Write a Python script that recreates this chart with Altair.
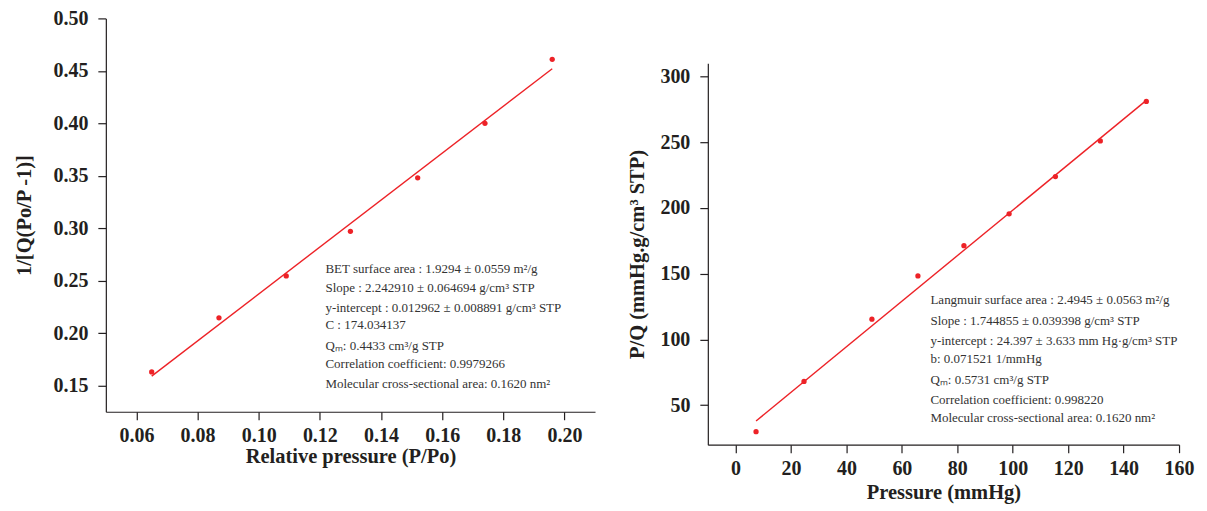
import altair as alt
import pandas as pd

# ---- BET plot data (left) ----
bet_x = [0.065, 0.087, 0.109, 0.130, 0.152, 0.174, 0.196]
bet_y = [0.163, 0.2145, 0.2545, 0.297, 0.348, 0.400, 0.461]
bet_fit_x = [0.065, 0.196]
bet_fit_y = [0.159, 0.452]
bet_xticks = [0.06, 0.08, 0.10, 0.12, 0.14, 0.16, 0.18, 0.20]
bet_yticks = [0.15, 0.20, 0.25, 0.30, 0.35, 0.40, 0.45, 0.50]
bet_text = [
    "BET surface area : 1.9294 \u00b1 0.0559 m\u00b2/g",
    "Slope : 2.242910 \u00b1 0.064694 g/cm\u00b3 STP",
    "y-intercept : 0.012962 \u00b1 0.008891 g/cm\u00b3 STP",
    "C : 174.034137",
    "Q\u2098: 0.4433 cm\u00b3/g STP",
    "Correlation coefficient: 0.9979266",
    "Molecular cross-sectional area: 0.1620 nm\u00b2",
]

# ---- Langmuir plot data (right) ----
lang_x = [7.4, 24.7, 49.2, 65.8, 82.4, 98.7, 115.4, 131.6, 148.2]
lang_y = [29.9, 68.1, 115.4, 148.3, 171.3, 195.6, 223.9, 251.0, 281.0]
lang_fit_x = [7.4, 148.2]
lang_fit_y = [38.0, 281.8]
lang_xticks = [0, 20, 40, 60, 80, 100, 120, 140, 160]
lang_yticks = [50, 100, 150, 200, 250, 300]
lang_text = [
    "Langmuir surface area : 2.4945 \u00b1 0.0563 m\u00b2/g",
    "Slope : 1.744855 \u00b1 0.039398 g/cm\u00b3 STP",
    "y-intercept : 24.397 \u00b1 3.633  mm Hg\u00b7g/cm\u00b3 STP",
    "b: 0.071521 1/mmHg",
    "Q\u2098:  0.5731 cm\u00b3/g STP",
    "Correlation coefficient: 0.998220",
    "Molecular cross-sectional area: 0.1620 nm\u00b2",
]

RED = "#ed2227"
INK = "#231f20"
SERIF = "Liberation Serif"

def axis(values, fmt, title, label_pad, title_pad):
    return alt.Axis(
        values=values, format=fmt, title=title, grid=False,
        domainColor=INK, tickColor=INK, domainWidth=1.2, tickWidth=1.2,
        tickSize=8, labelFont=SERIF, labelFontWeight="bold", labelFontSize=20,
        labelColor=INK, labelPadding=label_pad, titleFont=SERIF,
        titleFontWeight="bold", titleFontSize=20.5, titleColor=INK,
        titlePadding=title_pad, labelFlush=False, labelOverlap=False,
    )

def panel(px, py, fx, fy, xdom, ydom, xt, yt, xfmt, yfmt, xtitle, ytitle,
          texts, tx, ty, w, h, ytp, xtp):
    pts = pd.DataFrame({"x": px, "y": py})
    fit = pd.DataFrame({"x": fx, "y": fy})
    xs = alt.Scale(domain=xdom, nice=False, zero=False)
    ys = alt.Scale(domain=ydom, nice=False, zero=False)
    line = alt.Chart(fit).mark_line(color=RED, strokeWidth=1.4).encode(
        x=alt.X("x:Q", scale=xs, axis=axis(xt, xfmt, xtitle, 6, xtp)),
        y=alt.Y("y:Q", scale=ys, axis=axis(yt, yfmt, ytitle, 10, ytp)),
    )
    dots = alt.Chart(pts).mark_circle(color=RED, size=28, opacity=1).encode(
        x=alt.X("x:Q", scale=xs), y=alt.Y("y:Q", scale=ys)
    )
    layers = [line, dots]
    for t, yy in zip(texts, ty):
        layers.append(
            alt.Chart(pd.DataFrame({"t": [t]})).mark_text(
                align="left", baseline="middle", font=SERIF, fontSize=13,
                color="#333333"
            ).encode(text="t:N", x=alt.value(tx), y=alt.value(yy))
        )
    return alt.layer(*layers).properties(width=w, height=h)

left = panel(bet_x, bet_y, bet_fit_x, bet_fit_y, [0.05, 0.21], [0.125, 0.50],
             bet_xticks, bet_yticks, ".2f", ".2f", "Relative pressure (P/Po)",
             "1/[Q(Po/P -1)]", bet_text, 220,
             [251, 270, 290, 307, 328, 346, 366], 490, 394, 18, 1)

right = panel(lang_x, lang_y, lang_fit_x, lang_fit_y, [-10, 160], [20, 310],
              lang_xticks, lang_yticks, "d", "d", "Pressure (mmHg)",
              "P/Q (mmHg.g/cm\u00b3 STP)", lang_text, 223,
              [237, 258, 278, 296, 317, 337, 355], 472, 382, 12, 4)

spacer = alt.Chart(pd.DataFrame({"a": [0]})).mark_point(opacity=0).encode(
    x=alt.value(0), y=alt.value(0)
).properties(width=472, height=25)

right_col = alt.vconcat(spacer, right, spacing=20)

chart = alt.hconcat(left, right_col, spacing=33).properties(
    padding={"top": 0, "left": 7, "right": 5, "bottom": 5}
).configure_view(stroke=None)

chart.save("out.html", embed_options={"renderer": "svg", "actions": False})
